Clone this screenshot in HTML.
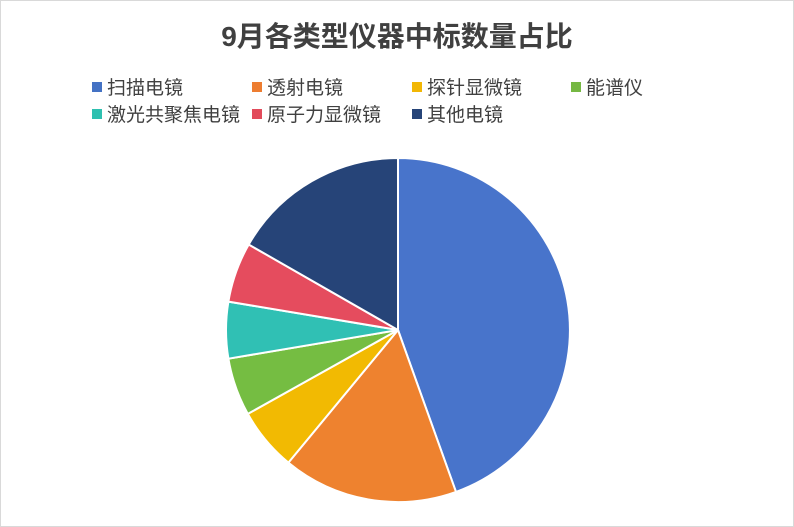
<!DOCTYPE html>
<html><head><meta charset="utf-8"><style>
body{margin:0;background:#fff}
.c{position:relative;width:792px;height:525px;border:1px solid #d9d9d9;font-family:"Liberation Sans","Noto Sans CJK SC",sans-serif;overflow:hidden}
.t{position:absolute;top:14px;width:100%;text-align:center;font-size:28px;font-weight:bold;color:#404040}
.l{position:absolute;font-size:19px;color:#404040;white-space:nowrap}
.l i{display:inline-block;width:10px;height:10px;margin-right:5px;vertical-align:2px}
</style></head><body><div class="c">
<div class="t">9月各类型仪器中标数量占比</div>
<div class="l" style="left:91px;top:72px"><i style="background:#4472C4"></i>扫描电镜</div>
<div class="l" style="left:251px;top:72px"><i style="background:#ED7D31"></i>透射电镜</div>
<div class="l" style="left:411px;top:72px"><i style="background:#F2B705"></i>探针显微镜</div>
<div class="l" style="left:570px;top:72px"><i style="background:#76B843"></i>能谱仪</div>
<div class="l" style="left:91px;top:99px"><i style="background:#2EC0B0"></i>激光共聚焦电镜</div>
<div class="l" style="left:251px;top:99px"><i style="background:#E24B5B"></i>原子力显微镜</div>
<div class="l" style="left:411px;top:99px"><i style="background:#264478"></i>其他电镜</div>
<svg width="792" height="525" style="position:absolute;left:0;top:0">
<g stroke="#fff" stroke-width="2" stroke-linejoin="round">
<path d="M397,329L397,157A172,172 0 0 1 455,490.9Z" fill="#4874CB"/>
<path d="M397,329L455,490.9A172,172 0 0 1 287.4,461.6Z" fill="#EE822F"/>
<path d="M397,329L287.4,461.6A172,172 0 0 1 246.8,412.9Z" fill="#F2BA02"/>
<path d="M397,329L246.8,412.9A172,172 0 0 1 227.4,357.7Z" fill="#75BD42"/>
<path d="M397,329L227.4,357.7A172,172 0 0 1 227.4,300.6Z" fill="#30C0B4"/>
<path d="M397,329L227.4,300.6A172,172 0 0 1 247.7,243.5Z" fill="#E54C5E"/>
<path d="M397,329L247.7,243.5A172,172 0 0 1 397,157Z" fill="#264478"/>
</g></svg>
</div></body></html>
